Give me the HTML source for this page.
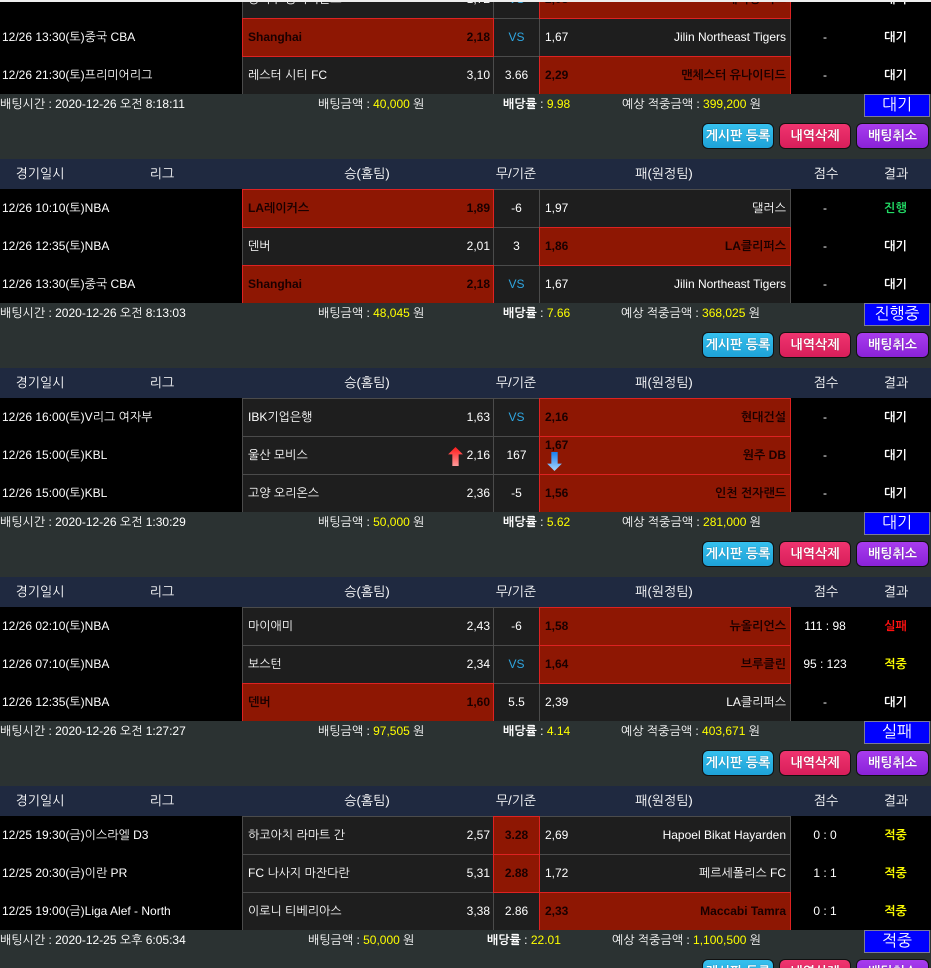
<!DOCTYPE html>
<html style="height:968px;overflow:hidden"><head><meta charset="utf-8">
<style>
html,body{height:968px;overflow:hidden}
body{margin:0;width:931px;background:#000;position:relative;font-family:"Liberation Sans","NanumGothic","Noto Sans CJK KR",sans-serif;font-size:12px;color:#fff}
.b{position:absolute;left:0;width:931px;height:209px}
.h{position:absolute;left:0;top:0;width:931px;height:30px;background:#1f2940}
.h span{position:absolute;top:0;line-height:30px;transform:translateX(-50%);font-size:13px;white-space:nowrap}
.r{position:absolute;left:0;width:931px;height:38px;background:#000}
.d{position:absolute;left:2px;top:0;line-height:38px;white-space:nowrap}
.c{position:absolute;top:0;height:39px;box-sizing:border-box;border:1px solid #4b4b4b;background:#1e1e1e;line-height:37px;white-space:nowrap;z-index:1}
.hm{left:242px;width:252px}
.dr{left:493px;width:47px;text-align:center}
.aw{left:539px;width:252px}
.s{background:#8e1703;border-color:#dd2222;color:#1a0000;font-weight:bold;z-index:2}
.l{position:absolute;left:5px;top:0}
.rt{position:absolute;right:3px;top:0}
.aw .rt{right:4px}
.vs{color:#2fa6e0}
.sc{position:absolute;left:790px;width:70px;text-align:center;line-height:38px}
.rs{position:absolute;left:860px;width:71px;text-align:center;line-height:38px;font-weight:bold}
.g{color:#22dd66}.red{color:#ff1010}.yl{color:#ffff00}
.sum{position:absolute;left:0;top:144px;width:931px;height:65px;background:#2b3232;z-index:3}
.t{position:absolute;top:0;line-height:20px;white-space:nowrap}
.y{color:#ffff00}
.box{position:absolute;left:864px;top:0;width:66px;height:23px;box-sizing:border-box;border:1px solid #7a7a9a;background:#0000ff;text-align:center;line-height:21px;font-size:16px}
.btn{position:absolute;top:29px;height:26px;border-radius:6px;border:1px solid #111;box-sizing:border-box;text-align:center;line-height:24px;font-weight:bold;font-size:13px;color:#fff;text-shadow:0 0 1px rgba(0,0,0,.4)}
.b1{left:702px;width:72px;background:linear-gradient(#36c0ee,#1ea2d8)}
.b2{left:779px;width:72px;background:linear-gradient(#f0346f,#d81e5a)}
.b3{left:856px;width:73px;background:linear-gradient(#a83cee,#8a22d8)}
</style></head><body>
<div style="position:absolute;left:0;top:0;width:931px;height:2px;background:#eeeeee;z-index:20"></div>

<!-- Block A -->
<div class="b" style="top:-50px">
 <div class="h"></div>
 <div class="r" style="top:30px"><div class="d"></div>
  <div class="c hm"><span class="l">광저우 롱라이온스</span><span class="rt">1,72</span></div>
  <div class="c dr vs">VS</div>
  <div class="c aw s"><span class="l">2,05</span><span class="rt">베이징 덕스</span></div>
  <div class="sc">-</div><div class="rs">대기</div></div>
 <div class="r" style="top:68px"><div class="d">12/26 13:30(토)중국 CBA</div>
  <div class="c hm s"><span class="l">Shanghai</span><span class="rt">2,18</span></div>
  <div class="c dr vs">VS</div>
  <div class="c aw"><span class="l">1,67</span><span class="rt">Jilin Northeast Tigers</span></div>
  <div class="sc">-</div><div class="rs">대기</div></div>
 <div class="r" style="top:106px"><div class="d">12/26 21:30(토)프리미어리그</div>
  <div class="c hm"><span class="l">레스터 시티 FC</span><span class="rt">3,10</span></div>
  <div class="c dr">3.66</div>
  <div class="c aw s"><span class="l">2,29</span><span class="rt">맨체스터 유나이티드</span></div>
  <div class="sc">-</div><div class="rs">대기</div></div>
 <div class="sum">
  <span class="t" style="left:0">배팅시간 : 2020-12-26 오전 8:18:11</span>
  <span class="t" style="left:318px">배팅금액 : <span class="y">40,000</span> 원</span>
  <span class="t" style="left:503px"><b>배당률</b> : <span class="y">9.98</span></span>
  <span class="t" style="left:622px">예상 적중금액 : <span class="y">399,200</span> 원</span>
  <div class="box">대기</div>
  <div class="btn b1">게시판 등록</div><div class="btn b2">내역삭제</div><div class="btn b3">배팅취소</div>
 </div>
</div>

<!-- Block B -->
<div class="b" style="top:159px">
 <div class="h"><span style="left:40px">경기일시</span><span style="left:162px">리그</span><span style="left:367px">승(홈팀)</span><span style="left:516px">무/기준</span><span style="left:664px">패(원정팀)</span><span style="left:826px">점수</span><span style="left:896px">결과</span></div>
 <div class="r" style="top:30px"><div class="d">12/26 10:10(토)NBA</div>
  <div class="c hm s"><span class="l">LA레이커스</span><span class="rt">1,89</span></div>
  <div class="c dr">-6</div>
  <div class="c aw"><span class="l">1,97</span><span class="rt">댈러스</span></div>
  <div class="sc">-</div><div class="rs g">진행</div></div>
 <div class="r" style="top:68px"><div class="d">12/26 12:35(토)NBA</div>
  <div class="c hm"><span class="l">덴버</span><span class="rt">2,01</span></div>
  <div class="c dr">3</div>
  <div class="c aw s"><span class="l">1,86</span><span class="rt">LA클리퍼스</span></div>
  <div class="sc">-</div><div class="rs">대기</div></div>
 <div class="r" style="top:106px"><div class="d">12/26 13:30(토)중국 CBA</div>
  <div class="c hm s"><span class="l">Shanghai</span><span class="rt">2,18</span></div>
  <div class="c dr vs">VS</div>
  <div class="c aw"><span class="l">1,67</span><span class="rt">Jilin Northeast Tigers</span></div>
  <div class="sc">-</div><div class="rs">대기</div></div>
 <div class="sum">
  <span class="t" style="left:0">배팅시간 : 2020-12-26 오전 8:13:03</span>
  <span class="t" style="left:318px">배팅금액 : <span class="y">48,045</span> 원</span>
  <span class="t" style="left:503px"><b>배당률</b> : <span class="y">7.66</span></span>
  <span class="t" style="left:621px">예상 적중금액 : <span class="y">368,025</span> 원</span>
  <div class="box">진행중</div>
  <div class="btn b1">게시판 등록</div><div class="btn b2">내역삭제</div><div class="btn b3">배팅취소</div>
 </div>
</div>

<!-- Block C -->
<div class="b" style="top:368px">
 <div class="h"><span style="left:40px">경기일시</span><span style="left:162px">리그</span><span style="left:367px">승(홈팀)</span><span style="left:516px">무/기준</span><span style="left:664px">패(원정팀)</span><span style="left:826px">점수</span><span style="left:896px">결과</span></div>
 <div class="r" style="top:30px"><div class="d">12/26 16:00(토)V리그 여자부</div>
  <div class="c hm"><span class="l">IBK기업은행</span><span class="rt">1,63</span></div>
  <div class="c dr vs">VS</div>
  <div class="c aw s"><span class="l">2,16</span><span class="rt">현대건설</span></div>
  <div class="sc">-</div><div class="rs">대기</div></div>
 <div class="r" style="top:68px"><div class="d">12/26 15:00(토)KBL</div>
  <div class="c hm"><span class="l">울산 모비스</span>
   <svg style="position:absolute;left:205px;top:10px" width="15" height="19" viewBox="0 0 14 18"><defs><linearGradient id="gu" x1="0" y1="0" x2="0" y2="1"><stop offset="0" stop-color="#ff1a1a"/><stop offset="1" stop-color="#ff9a9a"/></linearGradient></defs><polygon points="7,0 14,7 10,7 10,18 4,18 4,7 0,7" fill="url(#gu)"/></svg>
   <span class="rt">2,16</span></div>
  <div class="c dr">167</div>
  <div class="c aw s"><span class="l" style="line-height:17px">1,67</span>
   <svg style="position:absolute;left:7px;top:15px" width="15" height="19" viewBox="0 0 14 18"><defs><linearGradient id="gd" x1="0" y1="0" x2="0" y2="1"><stop offset="0" stop-color="#1a7ff0"/><stop offset="1" stop-color="#a8d6ff"/></linearGradient></defs><polygon points="4,0 10,0 10,11 14,11 7,18 0,11 4,11" fill="url(#gd)"/></svg>
   <span class="rt">원주 DB</span></div>
  <div class="sc">-</div><div class="rs">대기</div></div>
 <div class="r" style="top:106px"><div class="d">12/26 15:00(토)KBL</div>
  <div class="c hm"><span class="l">고양 오리온스</span><span class="rt">2,36</span></div>
  <div class="c dr">-5</div>
  <div class="c aw s"><span class="l">1,56</span><span class="rt">인천 전자랜드</span></div>
  <div class="sc">-</div><div class="rs">대기</div></div>
 <div class="sum">
  <span class="t" style="left:0">배팅시간 : 2020-12-26 오전 1:30:29</span>
  <span class="t" style="left:318px">배팅금액 : <span class="y">50,000</span> 원</span>
  <span class="t" style="left:503px"><b>배당률</b> : <span class="y">5.62</span></span>
  <span class="t" style="left:622px">예상 적중금액 : <span class="y">281,000</span> 원</span>
  <div class="box">대기</div>
  <div class="btn b1">게시판 등록</div><div class="btn b2">내역삭제</div><div class="btn b3">배팅취소</div>
 </div>
</div>

<!-- Block D -->
<div class="b" style="top:577px">
 <div class="h"><span style="left:40px">경기일시</span><span style="left:162px">리그</span><span style="left:367px">승(홈팀)</span><span style="left:516px">무/기준</span><span style="left:664px">패(원정팀)</span><span style="left:826px">점수</span><span style="left:896px">결과</span></div>
 <div class="r" style="top:30px"><div class="d">12/26 02:10(토)NBA</div>
  <div class="c hm"><span class="l">마이애미</span><span class="rt">2,43</span></div>
  <div class="c dr">-6</div>
  <div class="c aw s"><span class="l">1,58</span><span class="rt">뉴올리언스</span></div>
  <div class="sc">111 : 98</div><div class="rs red">실패</div></div>
 <div class="r" style="top:68px"><div class="d">12/26 07:10(토)NBA</div>
  <div class="c hm"><span class="l">보스턴</span><span class="rt">2,34</span></div>
  <div class="c dr vs">VS</div>
  <div class="c aw s"><span class="l">1,64</span><span class="rt">브루클린</span></div>
  <div class="sc">95 : 123</div><div class="rs yl">적중</div></div>
 <div class="r" style="top:106px"><div class="d">12/26 12:35(토)NBA</div>
  <div class="c hm s"><span class="l">덴버</span><span class="rt">1,60</span></div>
  <div class="c dr">5.5</div>
  <div class="c aw"><span class="l">2,39</span><span class="rt">LA클리퍼스</span></div>
  <div class="sc">-</div><div class="rs">대기</div></div>
 <div class="sum">
  <span class="t" style="left:0">배팅시간 : 2020-12-26 오전 1:27:27</span>
  <span class="t" style="left:318px">배팅금액 : <span class="y">97,505</span> 원</span>
  <span class="t" style="left:503px"><b>배당률</b> : <span class="y">4.14</span></span>
  <span class="t" style="left:621px">예상 적중금액 : <span class="y">403,671</span> 원</span>
  <div class="box">실패</div>
  <div class="btn b1">게시판 등록</div><div class="btn b2">내역삭제</div><div class="btn b3">배팅취소</div>
 </div>
</div>

<!-- Block E -->
<div class="b" style="top:786px">
 <div class="h"><span style="left:40px">경기일시</span><span style="left:162px">리그</span><span style="left:367px">승(홈팀)</span><span style="left:516px">무/기준</span><span style="left:664px">패(원정팀)</span><span style="left:826px">점수</span><span style="left:896px">결과</span></div>
 <div class="r" style="top:30px"><div class="d">12/25 19:30(금)이스라엘 D3</div>
  <div class="c hm"><span class="l">하코아치 라마트 간</span><span class="rt">2,57</span></div>
  <div class="c dr s">3.28</div>
  <div class="c aw"><span class="l">2,69</span><span class="rt">Hapoel Bikat Hayarden</span></div>
  <div class="sc">0 : 0</div><div class="rs yl">적중</div></div>
 <div class="r" style="top:68px"><div class="d">12/25 20:30(금)이란 PR</div>
  <div class="c hm"><span class="l">FC 나사지 마잔다란</span><span class="rt">5,31</span></div>
  <div class="c dr s">2.88</div>
  <div class="c aw"><span class="l">1,72</span><span class="rt">페르세폴리스 FC</span></div>
  <div class="sc">1 : 1</div><div class="rs yl">적중</div></div>
 <div class="r" style="top:106px"><div class="d">12/25 19:00(금)Liga Alef - North</div>
  <div class="c hm"><span class="l">이로니 티베리아스</span><span class="rt">3,38</span></div>
  <div class="c dr">2.86</div>
  <div class="c aw s"><span class="l">2,33</span><span class="rt">Maccabi Tamra</span></div>
  <div class="sc">0 : 1</div><div class="rs yl">적중</div></div>
 <div class="sum">
  <span class="t" style="left:0">배팅시간 : 2020-12-25 오후 6:05:34</span>
  <span class="t" style="left:308px">배팅금액 : <span class="y">50,000</span> 원</span>
  <span class="t" style="left:487px"><b>배당률</b> : <span class="y">22.01</span></span>
  <span class="t" style="left:612px">예상 적중금액 : <span class="y">1,100,500</span> 원</span>
  <div class="box">적중</div>
  <div class="btn b1">게시판 등록</div><div class="btn b2">내역삭제</div><div class="btn b3">배팅취소</div>
 </div>
</div>
</body></html>
